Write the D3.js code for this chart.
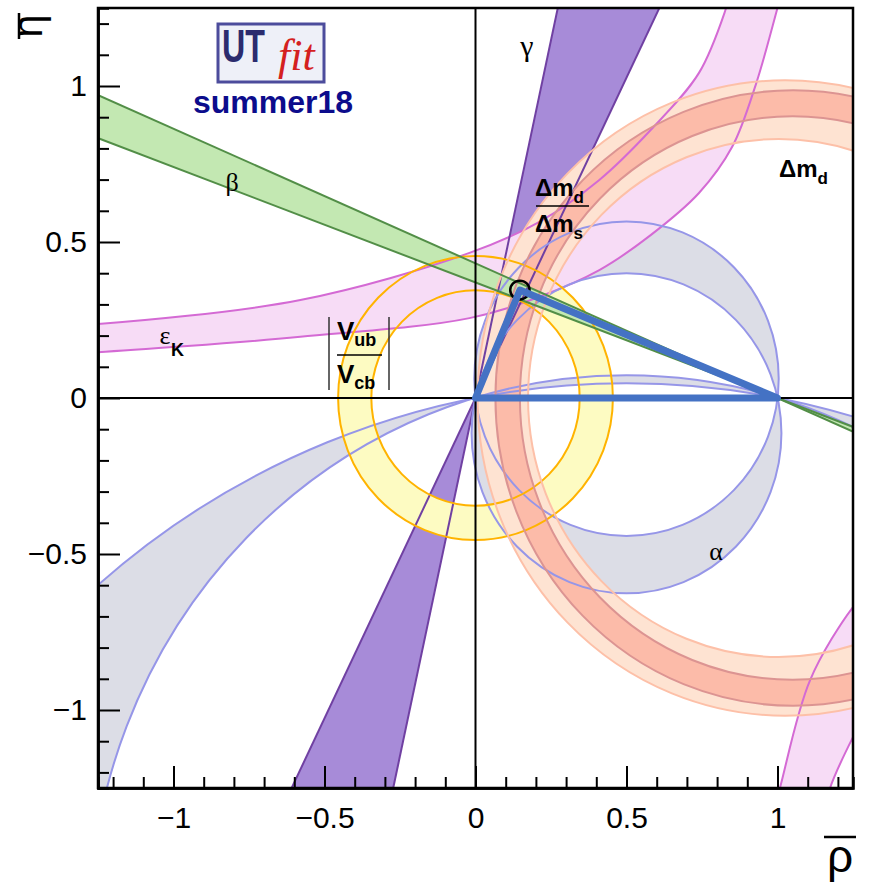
<!DOCTYPE html>
<html>
<head>
<meta charset="utf-8">
<script src="https://cdn.jsdelivr.net/npm/d3@7"></script>
<style>
  body { margin: 0; background: #fff; }
  text { font-family: "Liberation Sans", Arial, sans-serif; }
  .greek { font-family: "Liberation Serif", "DejaVu Serif", serif; }
</style>
</head>
<body>
<div id="chart"></div>
<script>
// ---- data ----
const majorTicks = [-1, -0.5, 0, 0.5, 1];
const tickLabels = ["\u22121", "\u22120.5", "0", "0.5", "1"];
const minorTicks = [-1.2, -1.1, -0.9, -0.8, -0.7, -0.6, -0.4, -0.3, -0.2, -0.1,
                    0.1, 0.2, 0.3, 0.4, 0.6, 0.7, 0.8, 0.9, 1.1, 1.2];

// triangle apex (rho, eta)
const apex = [0.147, 0.346];

// |Vub/Vcb| : annulus around (0,0), inner / outer radius
const vubRadii = [0.345, 0.455];

// Delta m circles around (1,0): [rho0, eta0, r]
const dmLight = [[1.025, 0, 1.018], [1.004, 0, 0.83]];
const dmDark = [[1.052, 0, 0.986], [1.05, 0, 0.903]];

// alpha: circles through (0,0) and (1,0): [rho0, eta0, r]
const alphaSmall = [[0.5, 0.062, 0.504], [0.5, -0.113, 0.513]];
const alphaLarge = [[0.5, -1.708, 1.780], [0.5, -2.644, 2.691]];

// gamma: edges rho = k * eta through the origin
const gammaSlopes = [0.218, 0.487];

// beta: edges through (1,0), eta value at rho = -1.25
const betaEta = [0.971, 0.833];

// eps_K upper branch edges (rho, eta)
const epsUpper = [[-1.32, 0.235], [-1.25, 0.237], [-0.58, 0.314], [-0.02, 0.465], [0.21, 0.564],
                  [0.41, 0.699], [0.58, 0.859], [0.74, 1.042], [0.83, 1.25], [0.85, 1.32]];
const epsLower = [[-1.32, 0.145], [-1.25, 0.147], [-0.58, 0.196], [-0.02, 0.256], [0.21, 0.324],
                  [0.41, 0.41], [0.58, 0.522], [0.74, 0.657], [0.85, 0.805], [0.93, 1.01],
                  [1.0, 1.25], [1.02, 1.32]];
// eps_K lower right branch
const epsRight1 = [[0.98, -1.35], [1.008, -1.25], [1.108, -0.904], [1.25, -0.67], [1.3, -0.62]];
const epsRight2 = [[1.15, -1.35], [1.174, -1.25], [1.25, -1.087], [1.3, -1.0]];

// ---- layout ----
const W = 869, H = 885;
const mL = 98, mR = 853, mT = 8, mB = 788;

const x = d3.scaleLinear().domain([-1.25, 1.25]).range([mL, mR]);
const y = d3.scaleLinear().domain([-1.25, 1.25]).range([mB, mT]);
const kx = x(1) - x(0), ky = y(0) - y(1);
const ext = 1.45;

const svg = d3.select('#chart').append('svg')
    .attr('width', W)
    .attr('height', H);

svg.append('defs').append('clipPath').attr('id', 'clip')
    .append('rect')
    .attr('x', mL).attr('y', mT)
    .attr('width', mR - mL).attr('height', mB - mT);

const plot = svg.append('g').attr('clip-path', 'url(#clip)');

const line = d3.line().x(d => x(d[0])).y(d => y(d[1]));
const curve = d3.line().x(d => x(d[0])).y(d => y(d[1])).curve(d3.curveCatmullRom);

function ell(c) {
    const cx = x(c[0]), cy = y(c[1]), rx = c[2] * kx, ry = c[2] * ky;
    return `M${cx - rx},${cy}A${rx},${ry} 0 1,0 ${cx + rx},${cy}A${rx},${ry} 0 1,0 ${cx - rx},${cy}Z`;
}
function band(a, b) {
    return curve(a) + curve(b.slice().reverse()).replace('M', 'L') + 'Z';
}
const betaLine = e => [[-ext, e * (1 + ext) / 2.25], [ext, e * (1 - ext) / 2.25]];

// colours
const col = {
    epsF: '#f7dcf6', epsL: '#d46ad4',
    gamF: '#a78bd8', gamL: '#7040a2',
    alpF: '#dcdde6', alpL: '#9696e8',
    vubF: '#fdfbc2', vubL: '#ffb300',
    dmLF: '#fee3d2', dmLL: '#fdc0a8',
    dmDF: '#fcbba9', dmDL: '#dc9492',
    betF: '#c3e8b2', betL: '#528e47',
    tri: '#4472c4'
};

// ---- fills (bottom to top) ----
plot.append('path').attr('d', ell(alphaSmall[0]) + ell(alphaSmall[1]))
    .attr('fill', col.alpF).attr('fill-rule', 'evenodd');
plot.append('path').attr('d', ell(alphaLarge[0]) + ell(alphaLarge[1]))
    .attr('fill', col.alpF).attr('fill-rule', 'evenodd');

[1, -1].forEach(s => {
    plot.append('path')
        .attr('d', line([[0, 0], [s * gammaSlopes[0] * ext, s * ext], [s * gammaSlopes[1] * ext, s * ext]]) + 'Z')
        .attr('fill', col.gamF);
});

plot.append('path').attr('d', vubRadii.map(r => ell([0, 0, r])).join(''))
    .attr('fill', col.vubF).attr('fill-rule', 'evenodd');

plot.append('path').attr('d', band(epsUpper, epsLower)).attr('fill', col.epsF);
plot.append('path').attr('d', band(epsRight1, epsRight2)).attr('fill', col.epsF);

plot.append('path').attr('d', ell(dmLight[0]) + ell(dmLight[1]))
    .attr('fill', col.dmLF).attr('fill-rule', 'evenodd');
plot.append('path').attr('d', ell(dmDark[0]) + ell(dmDark[1]))
    .attr('fill', col.dmDF).attr('fill-rule', 'evenodd');

const b0 = betaLine(betaEta[0]), b1 = betaLine(betaEta[1]);
plot.append('path').attr('d', line([b0[0], b0[1], b1[1], b1[0]]) + 'Z').attr('fill', col.betF);

// ---- contour lines ----
const lw = 2;
[epsUpper, epsLower, epsRight1, epsRight2].forEach(p => {
    plot.append('path').attr('d', curve(p)).attr('fill', 'none')
        .attr('stroke', col.epsL).attr('stroke-width', lw);
});
gammaSlopes.forEach(k => {
    plot.append('path').attr('d', line([[-k * ext, -ext], [k * ext, ext]]))
        .attr('fill', 'none').attr('stroke', col.gamL).attr('stroke-width', lw);
});
alphaSmall.concat(alphaLarge).forEach(c => {
    plot.append('path').attr('d', ell(c)).attr('fill', 'none')
        .attr('stroke', col.alpL).attr('stroke-width', lw);
});
vubRadii.forEach(r => {
    plot.append('path').attr('d', ell([0, 0, r])).attr('fill', 'none')
        .attr('stroke', col.vubL).attr('stroke-width', lw);
});
dmLight.forEach(c => {
    plot.append('path').attr('d', ell(c)).attr('fill', 'none')
        .attr('stroke', col.dmLL).attr('stroke-width', lw);
});
dmDark.forEach(c => {
    plot.append('path').attr('d', ell(c)).attr('fill', 'none')
        .attr('stroke', col.dmDL).attr('stroke-width', lw);
});
[b0, b1].forEach(b => {
    plot.append('path').attr('d', line(b)).attr('fill', 'none')
        .attr('stroke', col.betL).attr('stroke-width', lw);
});

// zero lines
plot.append('line').attr('x1', x(0)).attr('x2', x(0)).attr('y1', mT).attr('y2', mB)
    .attr('stroke', '#000').attr('stroke-width', 2);
plot.append('line').attr('x1', mL).attr('x2', mR).attr('y1', y(0)).attr('y2', y(0))
    .attr('stroke', '#000').attr('stroke-width', 2);

// apex contour + triangle
plot.append('ellipse')
    .attr('cx', x(apex[0])).attr('cy', y(apex[1]))
    .attr('rx', 0.032 * kx).attr('ry', 0.03 * ky)
    .attr('fill', 'none').attr('stroke', '#000').attr('stroke-width', 2.5);
plot.append('path').attr('d', line([[0, 0], [1, 0], apex]) + 'Z')
    .attr('fill', 'none').attr('stroke', col.tri).attr('stroke-width', 7)
    .attr('stroke-linejoin', 'round');

// ---- frame and axes ----
svg.append('rect').attr('x', mL).attr('y', mT)
    .attr('width', mR - mL).attr('height', mB - mT)
    .attr('fill', 'none').attr('stroke', '#000').attr('stroke-width', 2.5);

const xMinor = svg.append('g').attr('transform', `translate(0,${mB})`)
    .call(d3.axisBottom(x).tickValues(minorTicks).tickSize(-11).tickFormat(''));
const xMajor = svg.append('g').attr('transform', `translate(0,${mB})`)
    .call(d3.axisBottom(x).tickValues(majorTicks).tickSize(-22).tickSizeOuter(0)
        .tickPadding(19).tickFormat((d, i) => tickLabels[i]));
const yMinor = svg.append('g').attr('transform', `translate(${mL},0)`)
    .call(d3.axisLeft(y).tickValues(minorTicks).tickSize(-11).tickFormat(''));
const yMajor = svg.append('g').attr('transform', `translate(${mL},0)`)
    .call(d3.axisLeft(y).tickValues(majorTicks).tickSize(-22).tickSizeOuter(0)
        .tickPadding(11).tickFormat((d, i) => tickLabels[i]));

[xMinor, xMajor, yMinor, yMajor].forEach(g => {
    g.select('.domain').attr('stroke-width', 2.5);
    g.selectAll('.tick line').attr('stroke-width', 2);
    g.selectAll('text').attr('font-size', 30).attr('fill', '#000')
        .style('font-family', '"Liberation Sans", Arial, sans-serif');
});

// axis titles
const etaT = svg.append('g').attr('transform', 'translate(30,26) rotate(-90)');
etaT.append('text').attr('text-anchor', 'middle')
    .attr('y', 12).attr('font-size', 42).text('\u03b7');
etaT.append('line').attr('x1', -13).attr('x2', 13).attr('y1', -11).attr('y2', -11)
    .attr('stroke', '#000').attr('stroke-width', 2.5);

svg.append('text').attr('x', 840).attr('y', 872).attr('text-anchor', 'middle')
    .attr('font-size', 46).text('\u03c1');
svg.append('line').attr('x1', 824).attr('x2', 856).attr('y1', 837).attr('y2', 837)
    .attr('stroke', '#000').attr('stroke-width', 2.5);

// ---- band labels ----
function greek(t, px, py, size) {
    svg.append('text').attr('class', 'greek').attr('x', px).attr('y', py)
        .attr('text-anchor', 'middle').attr('font-size', size).text(t);
}
greek('\u03b3', 527, 56, 30);
greek('\u03b2', 232, 191, 26);
greek('\u03b1', 716, 560, 26);
greek('\u03b5', 165, 344, 26);
svg.append('text').attr('x', 171).attr('y', 356).attr('font-size', 18)
    .attr('font-weight', 'bold').text('K');

// Delta m_d
function dm(px, py, sub) {
    const t = svg.append('text').attr('x', px).attr('y', py)
        .attr('font-size', 24).attr('font-weight', 'bold');
    t.append('tspan').text('\u0394m');
    t.append('tspan').attr('font-size', 17).attr('dy', 7).text(sub);
}
dm(779, 177, 'd');
dm(535, 196, 'd');
svg.append('line').attr('x1', 536).attr('x2', 589).attr('y1', 206).attr('y2', 206)
    .attr('stroke', '#000').attr('stroke-width', 1.5);
dm(535, 232, 's');

// |Vub / Vcb|
function vv(px, py, sub) {
    const t = svg.append('text').attr('x', px).attr('y', py)
        .attr('font-size', 26).attr('font-weight', 'bold');
    t.append('tspan').text('V');
    t.append('tspan').attr('font-size', 18).attr('dy', 6).text(sub);
}
vv(337, 340, 'ub');
vv(337, 383, 'cb');
svg.append('line').attr('x1', 337).attr('x2', 382).attr('y1', 355).attr('y2', 355)
    .attr('stroke', '#000').attr('stroke-width', 1.5);
[329, 389].forEach(px => {
    svg.append('line').attr('x1', px).attr('x2', px).attr('y1', 317).attr('y2', 390)
        .attr('stroke', '#333').attr('stroke-width', 1.5);
});

// ---- UTfit logo ----
svg.append('rect').attr('x', 218).attr('y', 24).attr('width', 106).attr('height', 58)
    .attr('fill', '#eef0f8').attr('stroke', '#4c4c9c').attr('stroke-width', 3);
svg.append('g').attr('transform', 'translate(222,62) scale(0.7,1)')
    .append('text').attr('font-size', 46).attr('font-weight', 'bold')
    .attr('fill', '#2b2b6e').text('UT');
svg.append('text').attr('x', 278).attr('y', 70).attr('font-size', 44).attr('font-style', 'italic')
    .attr('fill', '#d42020').style('font-family', '"Liberation Serif", serif').text('fit');
svg.append('text').attr('x', 273).attr('y', 113).attr('text-anchor', 'middle')
    .attr('font-size', 32).attr('font-weight', 'bold').attr('fill', '#0c0c8c').text('summer18');
</script>
</body>
</html>
